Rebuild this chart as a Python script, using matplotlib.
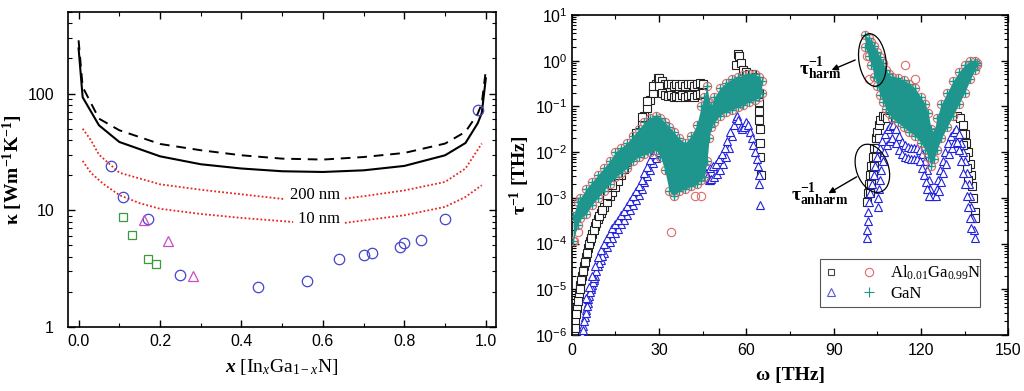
import numpy as np
import matplotlib
matplotlib.use("Agg")
import matplotlib.pyplot as plt
from matplotlib.patches import Ellipse
from matplotlib.transforms import ScaledTranslation
from matplotlib.ticker import MultipleLocator, LogLocator, NullFormatter, FixedLocator, FixedFormatter
from matplotlib.legend_handler import HandlerTuple

plt.rcParams['font.family'] = ['Liberation Sans', 'DejaVu Sans']
plt.rcParams['mathtext.fontset'] = 'custom'
plt.rcParams['mathtext.rm'] = 'Liberation Serif'
plt.rcParams['mathtext.it'] = 'Liberation Serif:italic'
plt.rcParams['mathtext.bf'] = 'Liberation Serif:bold'
plt.rcParams['mathtext.bfit'] = 'Liberation Serif:italic:bold'

# ---------------- Left panel data: kappa vs x (InxGa1-xN) ----------------
x_curve = [0.0, 0.01, 0.05, 0.1, 0.2, 0.3, 0.4, 0.5, 0.6, 0.7, 0.8, 0.9, 0.95, 0.98, 0.99, 1.0]
kappa_solid = [244, 93, 53.5, 38.5, 29, 24.8, 22.8, 21.6, 21.3, 22, 24, 29.6, 37.7, 55.6, 68, 135]
kappa_dashed = [286, 114, 61, 48.5, 37, 32.7, 29.6, 27.7, 27.2, 28.6, 31, 37.3, 47, 67, 82, 158]

x_200a = [0.01, 0.03, 0.05, 0.1, 0.2, 0.3, 0.4, 0.503]
k_200a = [50, 40, 30, 21, 16.7, 15, 13.7, 12.5]
x_200b = [0.654, 0.7, 0.8, 0.9, 0.95, 0.99]
k_200b = [12.6, 13.2, 14.8, 17.5, 22.8, 37.3]

x_10a = [0.01, 0.03, 0.06, 0.1, 0.15, 0.2, 0.3, 0.4, 0.527]
k_10a = [26.5, 21, 16.9, 13.5, 11.5, 10.3, 9.3, 8.6, 7.94]
x_10b = [0.654, 0.7, 0.8, 0.9, 0.95, 0.99]
k_10b = [7.8, 8.2, 9.06, 10.7, 13, 16.4]

circ_x = [0.08, 0.11, 0.17, 0.25, 0.44, 0.56, 0.64, 0.70, 0.72, 0.79, 0.80, 0.84, 0.90, 0.98]
circ_k = [24, 13, 8.5, 2.8, 2.2, 2.5, 3.8, 4.1, 4.3, 4.8, 5.25, 5.6, 8.5, 73]
sq_x = [0.11, 0.13, 0.17, 0.19]
sq_k = [8.8, 6.2, 3.8, 3.45]
tri_x = [0.16, 0.22, 0.28]
tri_k = [8.3, 5.45, 2.72]

# ---------------- Right panel data: scattering rates (log10 of tau^-1 in THz) ----------------
# GaN (+) cloud, band 1 and band 2: omega, lower edge, upper edge
gan1_w = [0.5, 2, 3, 5, 7, 9, 11, 13, 15, 17, 19, 21, 23, 25, 27, 29, 30.5, 32, 33.5, 35, 37, 39,
          41, 43, 44.5, 45.5, 46.5, 47.2, 48, 49, 51, 53, 55, 57, 59, 61, 63, 64.5, 65.3]
gan1_lo = [-3.95, -3.6, -3.45, -3.35, -3.15, -3.0, -2.85, -2.7, -2.55, -2.45, -2.35, -2.2, -2.1, -2.05,
           -2.0, -1.95, -2.1, -2.4, -2.85, -2.95, -2.85, -2.8, -2.75, -2.7, -2.6, -2.55, -2.2, -1.7,
           -1.45, -1.35, -1.2, -1.12, -1.08, -1.02, -0.97, -0.9, -0.85, -0.8, -0.7]
gan1_hi = [-3.4, -3.1, -3.0, -2.8, -2.65, -2.5, -2.35, -2.2, -2.0, -1.9, -1.8, -1.65, -1.5, -1.35,
           -1.25, -1.2, -1.25, -1.35, -1.45, -1.55, -1.7, -1.8, -1.65, -1.4, -1.0, -0.8, -0.55, -0.9,
           -1.0, -0.8, -0.6, -0.48, -0.4, -0.35, -0.32, -0.3, -0.3, -0.35, -0.45]
gan2_w = [100.8, 102, 103, 104, 105, 106, 107, 108, 109, 110, 112, 114, 116, 118, 120, 121.5, 122.5,
          123.5, 124.5, 125.5, 127, 129, 131, 133, 135, 137, 138.5, 139.2]
gan2_lo = [0.3, 0.1, -0.1, -0.35, -0.55, -0.75, -0.9, -1.05, -1.15, -1.25, -1.35, -1.45, -1.55, -1.65,
           -1.8, -1.95, -2.1, -2.3, -2.15, -1.95, -1.7, -1.45, -1.2, -0.95, -0.7, -0.4, -0.2, -0.1]
gan2_hi = [0.56, 0.5, 0.42, 0.32, 0.2, 0.08, -0.05, -0.2, -0.3, -0.35, -0.38, -0.42, -0.5, -0.6,
           -0.8, -0.95, -1.15, -1.5, -1.55, -1.25, -0.95, -0.7, -0.45, -0.25, -0.1, 0.0, 0.0, -0.05]

# Al0.01Ga0.99N (o) isolated points
alo_w = [0.8, 2.0, 34.0, 42.5, 44.5, 102.0, 101.6, 114.5, 118.0]
alo_v = [-3.95, -3.75, -3.74, -2.97, -2.97, -0.39, 0.1, -0.09, -0.39]

# Al0.01Ga0.99N squares (anharmonic part)
sq_w = [0.8, 1.3, 1.8, 2.5, 3.0, 3.6, 4.2, 4.8, 5.5, 6.2, 7.0, 8.0, 9.0, 10.0, 11.0, 12.0, 13.0,
        14.0, 15.0, 16.0, 17.0, 18.0, 19.0, 20.0, 21.0, 22.0, 23.0, 24.0, 25.0, 26.0, 27.0, 28.0,
        29.0, 29.8,
        1.05, 1.55, 2.15, 2.75, 3.3, 3.9, 4.5, 5.15, 5.85, 6.6, 7.5, 8.5, 9.5, 10.5,
        12, 14, 16, 18, 20, 22, 24, 26, 28,
        30, 31, 32, 33, 34, 35, 36, 37, 38, 39, 40, 41, 42, 43, 44, 45,
        30, 31, 32, 33, 34, 35, 36, 37, 38, 39, 40, 41, 42, 43, 44, 45,
        55.5, 56.5, 57.0, 57.5, 58.0, 59.0, 60.0, 61.0, 62.0, 63.0,
        64.2, 64.3, 64.4, 64.5, 64.6, 64.7, 64.8, 64.9,
        101.5, 101.8, 102.1, 102.5, 103.0, 103.5, 104.0, 104.5, 105.0, 105.5, 106.0, 106.8, 107.5, 108.3,
        102.5, 103.0, 103.5, 104.0, 104.5, 105.0, 105.5,
        132.5, 133.5, 134.3, 135.0, 135.6, 136.2, 136.7, 137.2, 137.6, 138.0, 138.4, 138.7,
        134.0, 134.6, 135.2, 135.7, 136.2]
sq_v = [-6.0, -5.7, -5.4, -5.1, -4.9, -4.7, -4.5, -4.3, -4.1, -3.95, -3.8, -3.62, -3.47, -3.33, -3.2,
        -3.08, -2.97, -2.87, -2.76, -2.64, -2.51, -2.37, -2.22, -2.06, -1.9, -1.74, -1.56, -1.38, -1.2,
        -1.03, -0.87, -0.7, -0.52, -0.38,
        -5.85, -5.55, -5.25, -5.0, -4.8, -4.6, -4.4, -4.2, -4.02, -3.87, -3.71, -3.55, -3.4, -3.26,
        -2.93, -2.72, -2.49, -2.22, -1.91, -1.59, -1.23, -0.88, -0.55,
        -0.38, -0.45, -0.5, -0.52, -0.5, -0.55, -0.5, -0.55, -0.52, -0.55, -0.5, -0.52, -0.55, -0.5, -0.48, -0.5,
        -0.55, -0.7, -0.75, -0.78, -0.75, -0.8, -0.78, -0.8, -0.75, -0.8, -0.78, -0.75, -0.8, -0.75, -0.72, -0.7,
        -0.6, -0.1, 0.15, 0.1, -0.05, -0.2, -0.25, -0.3, -0.3, -0.35,
        -0.7, -0.9, -1.1, -1.3, -1.5, -1.8, -2.1, -2.5,
        -3.1, -2.9, -2.7, -2.5, -2.3, -2.1, -1.9, -1.7, -1.55, -1.4, -1.3, -1.2, -1.2, -1.25,
        -2.9, -2.7, -2.5, -2.3, -2.1, -1.9, -1.7,
        -1.2, -1.25, -1.4, -1.6, -1.8, -2.0, -2.25, -2.5, -2.75, -3.0, -3.3, -3.45,
        -1.6, -1.85, -2.1, -2.35, -2.6]

# GaN triangles (anharmonic part)
tri_w = [3.5, 4.0, 4.5, 5.0, 5.5, 6.0, 6.5, 7.0, 7.5, 8.0, 9.0, 10.0, 11.0, 12.0, 13.0, 14.0, 15.0,
         16.0, 17.0, 18.0, 19.0, 20.0, 21.0, 22.0, 23.0, 24.0, 25.0, 26.0, 27.0, 28.0, 29.0, 30.0,
         3.75, 4.25, 4.75, 5.25, 5.75, 6.25, 6.75, 7.25, 7.75, 8.5, 9.5, 10.5,
         5, 6, 7, 8, 9, 10, 11, 12, 13, 14, 15, 16, 17, 18, 19, 20, 21, 22, 23, 24, 25, 26, 27, 28, 29,
         44.5, 45.0, 45.5, 46.0, 46.5, 47.0, 47.5, 48.0, 49.0, 50.0, 51.0, 52.0, 53.0, 54.0, 55.0, 55.7,
         56.3, 56.8, 57.3, 58.0, 58.6, 59.2, 60.0, 60.6, 61.2, 61.8, 62.4, 63.0, 63.5, 64.0, 64.3, 64.5, 64.6,
         47.5, 48.5, 49.5, 50.5, 51.5, 52.5, 53.5, 54.5,
         101.3, 101.5, 101.7, 101.9, 102.2, 102.6, 103.1, 103.7, 104.3, 105.0, 105.8, 106.7, 107.6, 108.5,
         109.5, 110.5, 111.5, 112.5, 113.5, 114.5, 115.5, 116.5, 117.5, 118.5, 119.5, 120.5, 121.3, 122.0,
         122.6, 123.1, 123.6, 124.3, 125.0, 125.5, 126.0, 126.7, 127.4, 128.3, 129.3, 130.3, 131.3, 132.2,
         133.0, 133.8, 134.5, 135.2, 135.8, 136.4, 136.9, 137.3, 137.7, 138.1, 138.4,
         105.2, 105.4, 105.6, 105.9, 106.3, 106.8, 107.4, 108.2, 109.2, 110.2, 111.5, 112.5, 113.5, 114.5,
         115.5, 116.5, 117.5, 118.5, 119.5, 120.3, 121.0, 121.6, 122.2, 122.8,
         126.2, 126.8, 127.6, 128.5, 129.5, 130.5, 131.5, 132.3, 133.1, 133.8, 134.5, 135.1, 135.7, 136.2,
         136.7, 137.2]
tri_v = [-6.0, -5.8, -5.6, -5.45, -5.3, -5.15, -5.0, -4.9, -4.8, -4.7, -4.5, -4.35, -4.2, -4.08, -3.97,
         -3.87, -3.77, -3.68, -3.58, -3.48, -3.38, -3.27, -3.16, -3.05, -2.93, -2.8, -2.66, -2.52, -2.38,
         -2.24, -2.12, -2.0,
         -5.9, -5.7, -5.52, -5.37, -5.22, -5.07, -4.95, -4.85, -4.75, -4.6, -4.42, -4.27,
         -5.2, -4.95, -4.7, -4.5, -4.3, -4.15, -4.0, -3.88, -3.77, -3.67, -3.57, -3.48, -3.38, -3.28,
         -3.18, -3.07, -2.96, -2.85, -2.73, -2.6, -2.46, -2.32, -2.18, -2.05, -1.95,
         -2.3, -2.1, -2.2, -2.45, -2.55, -2.6, -2.6, -2.58, -2.55, -2.48, -2.38, -2.25, -2.1, -1.92, -1.65,
         -1.4, -1.25, -1.2, -1.3, -1.45, -1.5, -1.45, -1.35, -1.4, -1.55, -1.7, -1.85, -2.0, -2.15, -2.3,
         -2.5, -2.7, -3.15,
         -2.35, -2.3, -2.25, -2.15, -2.05, -1.9, -1.75, -1.55,
         -3.88, -3.7, -3.5, -3.3, -3.1, -2.9, -2.7, -2.5, -2.3, -2.1, -1.9, -1.75, -1.6, -1.5, -1.42, -1.4,
         -1.5, -1.65, -1.78, -1.85, -1.88, -1.9, -1.9, -1.92, -1.95, -2.05, -2.2, -2.4, -2.6, -2.8, -2.95,
         -2.97, -2.95, -2.8, -2.6, -2.4, -2.2, -2.0, -1.8, -1.65, -1.55, -1.5, -1.6, -1.8, -2.0, -2.2,
         -2.45, -2.7, -2.95, -3.2, -3.45, -3.7, -3.88,
         -3.2, -3.0, -2.8, -2.6, -2.4, -2.2, -2.0, -1.85, -1.75, -1.7, -1.8, -1.95, -2.05, -2.1, -2.12,
         -2.15, -2.15, -2.15, -2.2, -2.35, -2.5, -2.65, -2.8, -2.95,
         -2.85, -2.65, -2.45, -2.25, -2.05, -1.9, -1.8, -1.78, -1.95, -2.2, -2.45, -2.7, -2.95, -3.2,
         -3.45, -3.65]

legend_labels = [r'Al$_{\mathrm{0.01}}$Ga$_{\mathrm{0.99}}$N', 'GaN']

# ---------------- Figure ----------------
fig = plt.figure(figsize=(10.24, 3.91), dpi=100)
ax1 = fig.add_axes([68/1024, 1-327/391, 428/1024, 315/391])
ax2 = fig.add_axes([571.7/1024, 1-335/391, 436.6/1024, 320/391])

red = '#e8251f'
ax1.plot(x_curve, kappa_solid, color='k', lw=1.5, zorder=3)
ax1.plot(x_curve, kappa_dashed, color='k', lw=1.4, ls=(0, (5, 3.5)), zorder=3)
for xs, ks in [(x_200a, k_200a), (x_200b, k_200b), (x_10a, k_10a), (x_10b, k_10b)]:
    ax1.plot(xs, ks, color=red, lw=1.3, ls=(0, (1, 1.2)), zorder=2)
ax1.plot(circ_x, circ_k, ls='none', marker='o', ms=7.5, mfc='none', mec='#4444cc', mew=0.9, zorder=4)
ax1.plot(sq_x, sq_k, ls='none', marker='s', ms=6, mfc='none', mec='#3a9a3a', mew=0.9, zorder=4)
ax1.plot(tri_x, tri_k, ls='none', marker='^', ms=7.5, mfc='none', mec='#c84bc8', mew=0.9, zorder=4)
ax1.text(0.58, 13.4, '200 nm', family='Liberation Serif', fontsize=12, ha='center', va='center')
ax1.text(0.591, 8.5, '10 nm', family='Liberation Serif', fontsize=12, ha='center', va='center')

ax1.set_yscale('log')
ax1.set_xlim(-0.026, 1.025)
ax1.set_ylim(1, 500)
ax1.set_xticks([0.0, 0.2, 0.4, 0.6, 0.8, 1.0])
ax1.set_xticklabels(['0.0', '0.2', '0.4', '0.6', '0.8', '1.0'])
ax1.xaxis.set_minor_locator(MultipleLocator(0.1))
ax1.yaxis.set_major_locator(FixedLocator([1, 10, 100]))
ax1.yaxis.set_major_formatter(FixedFormatter(['1', '10', '100']))
ax1.yaxis.set_minor_locator(LogLocator(base=10, subs=np.arange(2, 10), numticks=20))
ax1.yaxis.set_minor_formatter(NullFormatter())
ax1.tick_params(which='both', direction='in', top=True, right=True, labelsize=11.5)
ax1.tick_params(axis='x', which='major', pad=5)
ax1.tick_params(axis='y', which='major', pad=10)
ax1.tick_params(which='major', length=5, width=1)
ax1.tick_params(which='minor', length=3, width=0.8)
for s in ax1.spines.values():
    s.set_linewidth(1.2)
ax1.set_xlabel(r'$\mathbfit{x}$ [In$_{\mathit{x}}$Ga$_{\mathrm{1-}\mathit{x}}$N]', family='Liberation Serif', fontsize=14)
ax1.xaxis.set_label_coords(0.5, -0.095)
ax1.xaxis.label.set_va('top')
ax1.set_ylabel(r'κ [Wm$^{\mathbf{-1}}$K$^{\mathbf{-1}}$]', family='Liberation Serif', fontweight='bold', fontsize=14)
ax1.yaxis.set_label_coords(-0.1, 0.5)

# ---------------- Right panel ----------------
teal = '#1f968d'
ored = '#e06a6a'
blue = '#2222dd'
lg = lambda a: 10 ** np.asarray(a, dtype=float)

ax2.plot(sq_w, lg(sq_v), ls='none', marker='s', ms=5.5, mfc='white', mec='#222222', mew=0.8, zorder=2)
ax2.plot(tri_w, lg(tri_v), ls='none', marker='^', ms=6, mfc='white', mec=blue, mew=0.8, zorder=3)
for w, lo, hi in [(gan1_w, gan1_lo, gan1_hi), (gan2_w, gan2_lo, gan2_hi)]:
    ax2.plot(w, lg(lo), ls='none', marker='o', ms=6, mfc='none', mec=ored, mew=0.8, zorder=4)
    ax2.plot(w, lg(hi), ls='none', marker='o', ms=6, mfc='none', mec=ored, mew=0.8, zorder=4)
    ax2.fill_between(w, lg(lo), lg(hi), color=teal, lw=0, zorder=5)
    ax2.plot(w, lg(lo), ls='none', marker='+', ms=6, color=teal, mew=1, zorder=6)
    ax2.plot(w, lg(hi), ls='none', marker='+', ms=6, color=teal, mew=1, zorder=6)
ax2.plot(alo_w, lg(alo_v), ls='none', marker='o', ms=6, mfc='none', mec=ored, mew=0.8, zorder=4)

ax2.set_yscale('log')
ax2.set_xlim(0, 150)
ax2.set_ylim(1e-6, 10)
ax2.xaxis.set_major_locator(MultipleLocator(30))
ax2.xaxis.set_minor_locator(MultipleLocator(15))
ax2.yaxis.set_major_locator(LogLocator(base=10, numticks=20))
ax2.yaxis.set_minor_locator(LogLocator(base=10, subs=np.arange(2, 10), numticks=20))
ax2.yaxis.set_minor_formatter(NullFormatter())
ax2.tick_params(which='both', direction='in', top=True, right=True, labelsize=11.5)
ax2.tick_params(axis='x', which='major', pad=6)
ax2.tick_params(axis='y', which='major', pad=3)
ax2.tick_params(which='major', length=5, width=1)
ax2.tick_params(which='minor', length=3, width=0.8)
for s in ax2.spines.values():
    s.set_linewidth(1.2)
ax2.set_xlabel('ω [THz]', family='Liberation Serif', fontweight='bold', fontsize=14)
ax2.xaxis.set_label_coords(0.5, -0.1)
ax2.xaxis.label.set_va('top')
ax2.set_ylabel(r'τ$^{\mathbf{-1}}$ [THz]', family='Liberation Serif', fontweight='bold', fontsize=14)
ax2.yaxis.set_label_coords(-0.091, 0.5)

# ellipses (sizes in pixels at 100 dpi)
def ellipse(xd, yd, wpx, hpx, ang):
    tr = fig.dpi_scale_trans + ScaledTranslation(xd, yd, ax2.transData)
    ax2.add_patch(Ellipse((0, 0), wpx / 100, hpx / 100, angle=ang, transform=tr,
                          fill=False, ec='k', lw=0.9, zorder=8))

ellipse(103.3, 10 ** 0.016, 27, 53, 8)
ellipse(103.3, 10 ** -2.354, 32, 50, 20)

ax2.annotate('', xy=(89.3, 10 ** -0.203), xytext=(97.4, 10 ** 0.016),
             arrowprops=dict(arrowstyle='-|>', color='k', lw=1, mutation_scale=9, shrinkA=0, shrinkB=0), zorder=8)
ax2.annotate('', xy=(88.2, 10 ** -2.90), xytext=(97.9, 10 ** -2.54),
             arrowprops=dict(arrowstyle='-|>', color='k', lw=1, mutation_scale=9, shrinkA=0, shrinkB=0), zorder=8)
ax2.text(78.0, 10 ** -0.31, r'$\mathbf{\tau}^{\mathbf{-1}}_{\mathbf{harm}}$', fontsize=14, ha='left', va='baseline')
ax2.text(75.5, 10 ** -3.05, r'$\mathbf{\tau}^{\mathbf{-1}}_{\mathbf{anharm}}$', fontsize=14, ha='left', va='baseline')

# legend
h_sq, = ax2.plot([], [], ls='none', marker='s', ms=5, mfc='none', mec='#444444', mew=0.8)
h_o, = ax2.plot([], [], ls='none', marker='o', ms=6, mfc='none', mec=ored, mew=0.8)
h_tri, = ax2.plot([], [], ls='none', marker='^', ms=6, mfc='none', mec='#5555dd', mew=0.8)
h_pl, = ax2.plot([], [], ls='none', marker='+', ms=7, color=teal, mew=0.8)
leg = ax2.legend([(h_sq, h_o), (h_tri, h_pl)], legend_labels,
                 handler_map={tuple: HandlerTuple(ndivide=None, pad=1.5)},
                 loc='lower left', bbox_to_anchor=(0.55, 0.0625, 0.404, 0.1355), mode='expand',
                 prop={'family': 'Liberation Serif', 'size': 12}, handlelength=3.0,
                 handletextpad=0.9, labelspacing=0.2, borderpad=0.3, fancybox=False,
                 framealpha=1, edgecolor='#555555')
leg.get_frame().set_linewidth(0.8)
leg.set_zorder(10)

fig.savefig('out.png', dpi=100)
